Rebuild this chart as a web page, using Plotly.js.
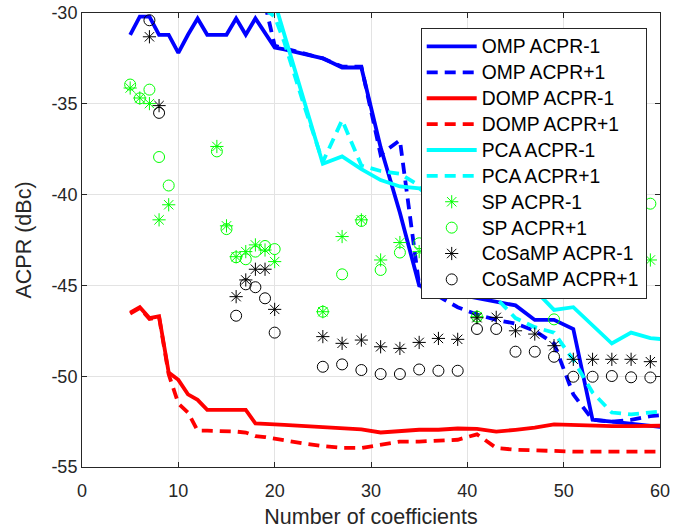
<!DOCTYPE html>
<html>
<head>
<meta charset="utf-8">
<script src="https://cdn.plot.ly/plotly-3.0.1.min.js"></script>
<style>html,body{margin:0;padding:0;background:#fff;}#chart{width:688px;height:529px;}</style>
</head>
<body>
<div id="chart"></div>
<script>
// Line series x positions
const xLine = [5,6,7,8,9,10,11,12,13,14,15,16,17,18,19,20,21,23,25,27,29,31,33,35,37,39,41,43,45,47,49,51,53,55,57,59,61];
const ompM1 = [-31.2,-30.2,-30.2,-31.2,-31.2,-32.2,-31.2,-30.3,-31.2,-31.2,-31.2,-30.3,-31.2,-30.3,-31.1,-31.9,-32.0,-32.25,-32.5,-33.0,-33.0,-37.4,-41.0,-45.0,-45.3,-45.5,-45.7,-45.9,-46.1,-46.9,-46.9,-47.4,-52.4,-52.5,-52.6,-52.75,-52.85];
const ompP1 = [null,null,null,null,null,null,null,null,null,null,null,null,null,null,-29.5,-31.8,-31.95,-32.2,-32.5,-32.95,-32.95,-37.8,-37.0,-45.0,-45.6,-46.2,-46.6,-46.9,-47.1,-47.5,-48.2,-51.0,-52.4,-52.5,-52.4,-52.2,-52.1];
const dompM1 = [-46.5,-46.2,-46.8,-46.7,-49.8,-50.2,-51.0,-51.3,-51.85,-51.85,-51.85,-51.8,-51.85,-52.6,-52.6,-52.65,-52.68,-52.75,-52.8,-52.85,-52.93,-53.1,-53.0,-52.95,-52.95,-52.88,-52.9,-53.05,-52.95,-52.83,-52.65,-52.7,-52.73,-52.75,-52.75,-52.73,-52.72];
const dompP1 = [-46.55,-46.25,-46.85,-46.75,-49.9,-51.5,-52.0,-53.0,-53.0,-53.0,-53.0,-53.05,-53.1,-53.3,-53.35,-53.45,-53.5,-53.7,-53.85,-53.95,-53.95,-53.75,-53.6,-53.6,-53.55,-53.5,-53.2,-53.95,-54.05,-54.1,-54.15,-54.15,-54.15,-54.15,-54.15,-54.15,-54.15];
const pcaM1 = [null,null,null,null,null,null,null,null,null,null,null,null,null,null,null,-29.4,-31.2,-34.8,-38.3,-37.9,-38.6,-39.2,-39.55,-39.65,-40.5,-41.8,-43.0,-44.3,-45.4,-45.25,-46.35,-46.2,-47.2,-48.2,-47.6,-47.9,-48.0];
const pcaP1 = [null,null,null,null,null,null,null,null,null,null,null,null,null,null,-29.8,-30.2,-31.6,-35.0,-38.2,-35.9,-38.4,-38.7,-38.85,-39.5,-41.0,-43.0,-45.3,-45.7,-46.8,-47.3,-47.6,-49.1,-50.9,-52.0,-52.1,-52.0,-51.9];

// Marker series x positions
const xSc = [5,6,7,8,9,14,15,16,17,18,19,20,25,27,29,31,33,35,37,39,41,43,45,47,49,51,53,55,57,59];
const spM1 = [-34.13,-34.68,-34.99,-41.39,-40.56,-37.35,-41.72,-43.42,-43.14,-42.77,-43.05,-43.69,-46.45,-42.31,-41.39,-43.6,-42.64,-43.14,null,null,-46.72,null,null,-45.3,null,null,null,null,null,-43.6];
const spP1 = [-33.94,-34.7,-34.22,-37.93,-39.5,-37.62,-41.9,-43.45,-43.56,-43.14,-42.83,-43.0,-46.45,-44.39,-41.45,-44.15,-43.19,-42.68,null,null,-46.72,null,null,null,-46.87,null,null,null,null,-40.5];
const cosM1 = [null,null,-31.31,-35.1,null,null,null,-45.62,-44.7,-44.11,-44.11,-46.32,-47.82,-48.19,-48.01,-48.38,-48.47,-48.14,-47.92,-47.97,-46.78,-46.76,-47.5,-47.68,-48.32,-49.07,-49.07,-49.07,-49.07,-49.2];
const cosP1 = [null,null,-30.4,-35.5,null,null,null,-46.67,-44.94,-45.1,-45.71,-47.6,-49.48,-49.35,-49.66,-49.88,-49.88,-49.63,-49.7,-49.7,-47.4,-47.4,-48.65,-48.65,-48.93,-50.03,-50.03,-49.99,-50.06,-50.07];

const names = ['OMP ACPR-1','OMP ACPR+1','DOMP ACPR-1','DOMP ACPR+1','PCA ACPR-1','PCA ACPR+1','SP ACPR-1','SP ACPR+1','CoSaMP ACPR-1','CoSaMP ACPR+1'];
const xTicks = [0,10,20,30,40,50,60];
const yTicks = [-55,-50,-45,-40,-35,-30];

const LW = 3.8;
const DASH = '11px,7px';
function ln(y, name, color, dash) {
  return {x: xLine, y: y, name: name, type: 'scatter', mode: 'lines',
    line: {color: color, width: LW, dash: dash}, connectgaps: false};
}
function mk(y, name, color, sym) {
  return {x: xSc, y: y, name: name, type: 'scatter', mode: 'markers',
    marker: {symbol: sym, size: 11, color: color, line: {color: color, width: 1}}};
}
const data = [
  ln(ompM1, names[0], '#0000ff', 'solid'),
  ln(ompP1, names[1], '#0000ff', DASH),
  ln(dompM1, names[2], '#ff0000', 'solid'),
  ln(dompP1, names[3], '#ff0000', DASH),
  ln(pcaM1, names[4], '#00ffff', 'solid'),
  ln(pcaP1, names[5], '#00ffff', DASH),
  mk(spM1, names[6], '#00ff00', 'asterisk-open'),
  mk(spP1, names[7], '#00ff00', 'circle-open'),
  mk(cosM1, names[8], '#000000', 'asterisk-open'),
  mk(cosP1, names[9], '#000000', 'circle-open')
];
const axCol = '#262626';
const layout = {
  width: 688, height: 529,
  margin: {l: 82, r: 28, t: 13, b: 62},
  paper_bgcolor: '#ffffff', plot_bgcolor: '#ffffff',
  font: {family: 'Arial, Liberation Sans, sans-serif', size: 18, color: axCol},
  showlegend: true,
  xaxis: {range: [0, 60], tickvals: xTicks, ticktext: xTicks.map(String),
    showgrid: true, gridcolor: '#e3e3e3', gridwidth: 1, zeroline: false,
    showline: true, linecolor: axCol, linewidth: 1, mirror: 'ticks',
    ticks: 'inside', ticklen: 5, tickcolor: axCol, ticklabelstandoff: 7,
    tickfont: {size: 18, color: axCol},
    title: {text: 'Number of coefficients', font: {size: 21.5, color: axCol}, standoff: 9}},
  yaxis: {range: [-55, -30], tickvals: yTicks, ticktext: yTicks.map(String),
    showgrid: true, gridcolor: '#e3e3e3', gridwidth: 1, zeroline: false,
    showline: true, linecolor: axCol, linewidth: 1, mirror: 'ticks',
    ticks: 'inside', ticklen: 5, tickcolor: axCol,
    tickfont: {size: 18, color: axCol},
    title: {text: 'ACPR (dBc)', font: {size: 21.5, color: axCol}, standoff: 13}},
  legend: {x: 0.586, y: 0.968, xanchor: 'left', yanchor: 'top',
    bgcolor: '#ffffff', bordercolor: axCol, borderwidth: 1,
    font: {size: 17.6, color: '#000000'}, itemwidth: 50, tracegroupgap: 0}
};
Plotly.newPlot('chart', data, layout, {staticPlot: true, displayModeBar: false}).then(function(gd) {
  // enlarge legend glyphs to match the reference text size while keeping row spacing
  gd.querySelectorAll('.legend .legendtext').forEach(function(t) { t.style.fontSize = '19.3px'; });
  var W = 225;
  var bg = gd.querySelector('.legend rect.bg');
  if (bg) bg.setAttribute('width', W);
  document.querySelectorAll('clipPath[id^="legend"] rect').forEach(function(r) { r.setAttribute('width', W); });
});
</script>
</body>
</html>
